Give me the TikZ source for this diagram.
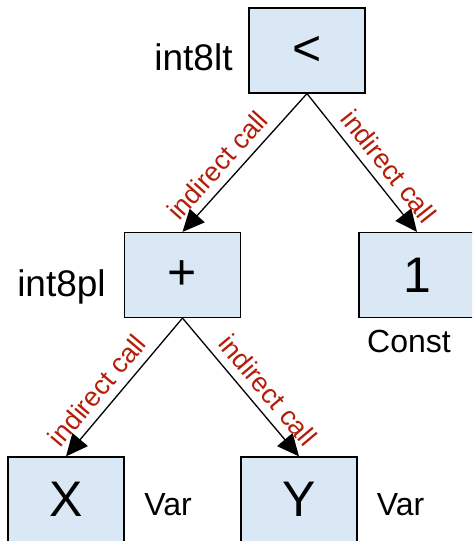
\documentclass[tikz,border=0pt]{standalone}
\usepackage{fontspec}
\setmainfont{Liberation Sans}
\usetikzlibrary{arrows.meta,positioning}
\definecolor{opfill}{RGB}{218,232,246}
\definecolor{callred}{RGB}{180,30,8}
\tikzstyle{op}=[draw, fill=opfill, line width=1.2pt, minimum width=116pt, minimum height=85pt, inner sep=0pt, font=\fontsize{50}{50}\selectfont]
\tikzstyle{call}=[sloped, above=5pt, pos=0.61, text=callred, font=\fontsize{27}{27}\selectfont]
\tikzstyle{kind}=[font=\fontsize{32}{32}\selectfont]

\begin{document}
\begin{tikzpicture}[x=1pt,y=1pt,node distance=224.5pt,>={Triangle[length=22pt,width=20pt]},font=\fontsize{37}{37}\selectfont]
    \clip (0,0) rectangle (472,-541);
    \node [op] (lt) at (307,-50.5) {<};
    \node [op] (pl) [below of=lt,xshift=-124.5pt] {+};
    \node [op] (one) [below of=lt,xshift=110pt] {1};
    \node [op] (x) [below of=pl,xshift=-116.5pt] {X};
    \node [op] (y) [below of=pl,xshift=116.5pt] {Y};
    \node (ltname) [left of=lt,node distance=113.5pt,yshift=-7pt] {int8lt};
    \node (plname) [left of=pl,node distance=121pt,yshift=-12pt] {int8pl};
    \node [kind] (onekind) [below of=one,node distance=66pt,xshift=-8pt] {Const};
    \node [kind] (xkind) [right of=x,node distance=102pt,yshift=-5pt] {Var};
    \node [kind] (ykind) [right of=y,node distance=101.5pt,yshift=-5pt] {Var};
    \path[->,line width=1.3pt]
    (lt.south) edge node [call] {indirect call} (pl.north)
    (lt.south) edge node [call] {indirect call} (one.north)
    (pl.south) edge node [call] {indirect call} (x.north)
    (pl.south) edge node [call] {indirect call} (y.north);
\end{tikzpicture}
\end{document}
